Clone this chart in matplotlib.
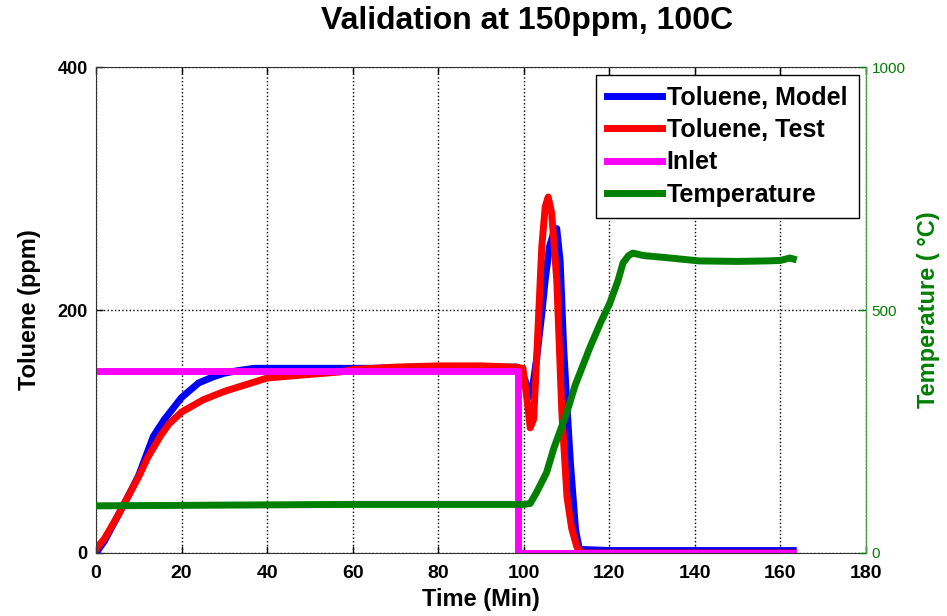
import matplotlib
matplotlib.use("Agg")
import matplotlib.pyplot as plt

plt.rcParams['font.family'] = ['Liberation Sans', 'DejaVu Sans']

# Toluene, model (ppm)
model_t = [0, 2, 5, 8, 10, 13.4, 16, 20, 24, 27.4, 30, 33, 37, 45, 55, 65, 75, 85, 95, 98.5,
           99.5, 100.5, 101.1, 102, 103, 104.2, 105, 106, 107, 107.7, 108.5, 109.3, 110.1,
           110.9, 112.1, 113, 120, 140, 163]
model_ppm = [0, 10, 30, 50, 64, 96, 110, 128, 140, 145, 148, 150, 152, 152, 152, 152, 153, 153, 153, 153,
             150, 140, 128, 135, 160, 197, 225, 252, 264, 267, 240, 170, 120,
             74, 19, 3, 2, 2, 2]

# Toluene, test (ppm)
test_t = [0, 2, 5, 8, 10, 12, 15, 17, 20, 25, 30, 40, 50, 57, 60, 70, 80, 90, 98, 99.8,
          100.8, 101.5, 102.3, 103, 104.2, 105, 105.7, 106.5, 107.7, 108.9, 110.1, 111.2,
          112.4, 113.5, 120, 163]
test_ppm = [3, 12, 30, 50, 63, 78, 96, 106, 116, 126, 133, 144, 147, 149, 151, 153, 154, 154, 153, 152,
            125, 103, 110, 160, 252, 285, 293, 280, 225, 115, 46, 20,
            5, 0, 0, 0]

# Inlet (ppm)
inlet_t = [0, 98.6, 98.6, 163]
inlet_ppm = [150, 150, 0, 0]

# Temperature (deg C)
temp_t = [0, 20, 40, 60, 80, 100, 101.5, 103, 105.3, 107, 110, 112, 115.5, 118, 120.1, 122,
          123.2, 124.5, 125.5, 128, 133, 141, 150, 156.8, 160, 162.2, 163]
temp_c = [97, 98, 99, 100, 100, 100, 102, 125, 165, 215, 288, 345, 424, 475, 514, 560,
          597, 612, 617, 612, 608, 601, 600, 601, 602, 607, 605]

x_ticks = [0, 20, 40, 60, 80, 100, 120, 140, 160, 180]
y_ticks = [0, 200, 400]
t_ticks = [0, 500, 1000]

fig = plt.figure(figsize=(9.47, 6.16), dpi=100)
ax = fig.add_axes([0.1014, 0.1023, 0.8131, 0.7889])
ax2 = ax.twinx()

lw = 5
l1, = ax.plot(model_t, model_ppm, color='#0000ff', lw=lw, label='Toluene, Model')
l2, = ax.plot(test_t, test_ppm, color='#ff0000', lw=lw, label='Toluene, Test')
l3, = ax.plot(inlet_t, inlet_ppm, color='#ff00ff', lw=lw, label='Inlet')
l4, = ax2.plot(temp_t, temp_c, color='#007f00', lw=lw, label='Temperature')

ax.set_xlim(0, 180)
ax.set_ylim(0, 400)
ax2.set_ylim(0, 1000)
ax.set_xticks(x_ticks)
ax.set_yticks(y_ticks)
ax2.set_yticks(t_ticks)

ax.tick_params(direction='in', length=5, top=True, width=1)
ax.tick_params(axis='x', labelsize=14, pad=9)
ax.tick_params(axis='y', labelsize=13, pad=6)
for lab in ax.get_xticklabels() + ax.get_yticklabels():
    lab.set_fontweight('bold')
ax2.tick_params(direction='in', length=5, labelsize=11, colors='#007f00', width=1, pad=4)
ax2.spines['right'].set_color('#4a9a4a')
for side in ['left', 'bottom', 'top']:
    ax2.spines[side].set_visible(False)
for side in ['left', 'bottom', 'top', 'right']:
    ax.spines[side].set_color('#333333')

ax.grid(True, color='black', linestyle=':', linewidth=1)
ax.set_xlabel('Time (Min)', fontsize=17, fontweight='bold', labelpad=4)
ax.set_ylabel('Toluene (ppm)', fontsize=17, fontweight='bold', labelpad=12)
ax2.set_ylabel('Temperature ( °C)', fontsize=17, fontweight='bold', color='#007f00', labelpad=8)
fig.suptitle('Validation at 150ppm, 100C', fontsize=23, fontweight='bold', x=0.557, y=0.99)

leg = ax2.legend(handles=[l1, l2, l3, l4], loc='upper right', fontsize=18, fancybox=False,
                 edgecolor='black', framealpha=1, handlelength=2.2, handletextpad=0.2,
                 borderaxespad=0.3, borderpad=0.45, labelspacing=0.33)
leg.get_frame().set_linewidth(1)
for text in leg.get_texts():
    text.set_fontweight('bold')

fig.savefig('out.png', dpi=100)
